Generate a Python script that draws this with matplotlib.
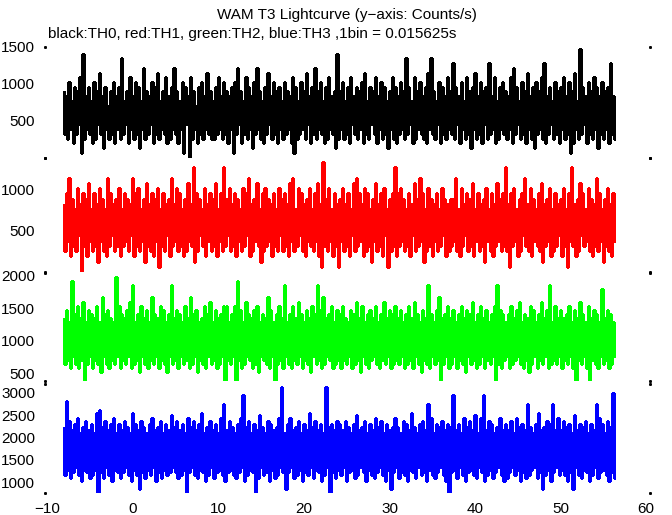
import numpy as np
import matplotlib
matplotlib.use("Agg")
import matplotlib.pyplot as plt

plt.rcParams['font.family'] = ['Liberation Sans', 'DejaVu Sans']

# ---- data: counts per bin (peak / trough pairs); rate = counts / bin width ----
bin_width = 0.015625          # s  (1bin = 0.015625s)
t_start = -8.2                # s
t_step = 0.1615               # s between plotted samples

th0_hi = [14, 13, 16, 12, 15, 14, 17, 22, 13, 15, 12, 16, 14, 18, 13, 15, 11, 14, 16, 13,
          15, 21, 12, 14, 17, 13, 16, 15, 12, 19, 14, 13, 16, 15, 18, 12, 14, 17, 13, 15,
          19, 14, 12, 16, 15, 13, 17, 14, 11, 15, 16, 13, 18, 14, 12, 15, 17, 13, 16, 14,
          13, 15, 16, 19, 14, 12, 17, 15, 13, 16, 19, 14, 12, 15, 18, 13, 16, 14, 15, 12,
          16, 14, 13, 17, 15, 12, 16, 14, 18, 13, 15, 19, 14, 16, 12, 15, 17, 13, 14, 22,
          14, 16, 12, 15, 17, 13, 15, 14, 16, 18, 12, 15, 14, 17, 13, 16, 15, 12, 14, 17,
          15, 13, 16, 14, 21, 15, 12, 17, 14, 16, 13, 15, 18, 21, 14, 12, 16, 15, 13, 17,
          14, 20, 15, 13, 16, 12, 17, 14, 15, 18, 13, 16, 14, 15, 20, 13, 17, 12, 15, 16,
          14, 13, 17, 19, 15, 12, 16, 14, 18, 13, 15, 16, 14, 17, 20, 13, 15, 12, 16, 14,
          15, 17, 13, 16, 14, 18, 12, 23, 15, 13, 16, 14, 17, 15, 13, 16, 14, 15, 20, 13]
th0_lo = [5, 4, 6, 3, 5, 7, 1, 4, 6, 5, 3, 4, 7, 5, 2, 6, 4, 5, 3, 6,
          4, 5, 7, 3, 6, 4, 5, 2, 6, 4, 5, 7, 3, 5, 4, 6, 5, 3, 4, 6,
          5, 3, 6, 1, 7, 0, 4, 6, 3, 5, 4, 6, 5, 4, 4, 5, 6, 4, 5, 3,
          6, 1, 5, 7, 3, 5, 4, 6, 2, 5, 6, 4, 3, 5, 7, 4, 5, 3, 6, 4,
          5, 6, 3, 1, 4, 5, 6, 4, 7, 3, 5, 4, 6, 5, 3, 4, 6, 5, 2, 4,
          6, 4, 5, 3, 7, 5, 4, 6, 3, 5, 4, 7, 5, 3, 6, 4, 5, 2, 6, 4,
          3, 5, 6, 4, 5, 7, 3, 4, 6, 5, 4, 3, 6, 5, 4, 7, 3, 5, 4, 6,
          5, 4, 7, 3, 6, 4, 5, 2, 6, 4, 5, 3, 7, 4, 5, 6, 3, 4, 6, 5,
          4, 6, 3, 5, 7, 4, 5, 3, 6, 4, 2, 5, 6, 4, 3, 5, 7, 4, 5, 3,
          6, 4, 5, 1, 3, 6, 4, 5, 7, 3, 5, 4, 6, 2, 5, 4, 6, 3, 5, 4]

th1_hi = [13, 15, 18, 14, 12, 16, 13, 15, 14, 17, 12, 15, 13, 16, 14, 12, 18, 15, 13, 14,
          16, 12, 15, 14, 13, 18, 15, 16, 12, 14, 17, 13, 15, 14, 16, 12, 15, 13, 14, 18,
          13, 16, 15, 12, 14, 17, 13, 20, 15, 14, 12, 16, 13, 15, 14, 17, 12, 15, 20, 14,
          16, 13, 15, 14, 12, 16, 15, 18, 13, 14, 17, 12, 15, 16, 14, 13, 15, 12, 16, 14,
          15, 13, 17, 18, 12, 16, 15, 13, 14, 16, 12, 15, 17, 13, 21, 14, 16, 12, 15, 13,
          14, 16, 13, 15, 12, 17, 18, 15, 13, 16, 15, 12, 14, 17, 13, 15, 16, 12, 14, 15,
          20, 15, 16, 14, 12, 15, 13, 17, 14, 18, 15, 12, 16, 14, 13, 15, 12, 16, 14, 13,
          14, 14, 18, 12, 16, 13, 15, 14, 17, 12, 15, 13, 14, 16, 12, 15, 13, 17, 14, 15,
          20, 13, 15, 16, 12, 14, 15, 18, 13, 16, 14, 12, 15, 17, 13, 14, 16, 12, 15, 13,
          14, 16, 12, 15, 20, 13, 14, 17, 15, 12, 16, 14, 13, 18, 15, 12, 14, 16, 13, 15]
th1_lo = [4, 6, 3, 5, 4, 7, 0, 5, 3, 6, 4, 5, 2, 6, 4, 3, 5, 7, 4, 5,
          3, 5, 6, 4, 7, 3, 5, 4, 6, 2, 5, 4, 3, 6, 1, 5, 4, 7, 3, 5,
          6, 4, 5, 3, 4, 6, 5, 2, 4, 7, 5, 3, 6, 4, 5, 3, 6, 4, 5, 7,
          4, 5, 3, 6, 4, 5, 7, 3, 4, 6, 5, 2, 4, 5, 6, 3, 5, 4, 7, 4,
          5, 3, 6, 4, 5, 7, 4, 3, 6, 5, 4, 6, 3, 1, 5, 4, 6, 3, 5, 1,
          6, 4, 5, 3, 7, 4, 5, 6, 3, 4, 5, 2, 6, 4, 5, 3, 7, 1, 4, 5,
          3, 5, 6, 4, 5, 3, 7, 4, 5, 6, 2, 4, 5, 3, 6, 4, 5, 7, 3, 4,
          5, 6, 4, 3, 5, 7, 4, 5, 3, 6, 4, 5, 2, 6, 4, 3, 5, 6, 4, 5,
          4, 1, 5, 6, 3, 4, 7, 5, 4, 3, 6, 5, 4, 2, 5, 6, 3, 4, 5, 7,
          3, 5, 1, 6, 5, 3, 4, 7, 5, 6, 4, 3, 5, 4, 6, 2, 5, 4, 3, 6]

th2_hi = [21, 23, 20, 30, 22, 24, 21, 25, 20, 23, 22, 21, 24, 20, 26, 22, 23, 21, 20, 31,
          24, 22, 21, 23, 25, 29, 20, 22, 24, 21, 23, 20, 26, 22, 21, 24, 23, 20, 22, 29,
          21, 23, 22, 20, 24, 21, 26, 22, 23, 20, 21, 24, 22, 25, 20, 23, 21, 22, 24, 24,
          20, 22, 24, 30, 23, 20, 25, 22, 21, 23, 24, 20, 22, 21, 26, 23, 20, 22, 24, 21,
          29, 20, 22, 24, 21, 25, 22, 20, 23, 21, 24, 22, 29, 23, 26, 21, 22, 24, 20, 23,
          22, 24, 21, 20, 23, 22, 25, 21, 24, 20, 22, 23, 21, 24, 20, 22, 25, 21, 23, 22,
          24, 21, 23, 20, 22, 24, 21, 25, 22, 20, 23, 21, 29, 22, 20, 23, 26, 21, 22, 24,
          21, 23, 20, 22, 24, 21, 23, 22, 25, 20, 22, 24, 21, 23, 20, 22, 24, 29, 23, 22,
          20, 22, 24, 21, 23, 25, 20, 22, 21, 24, 23, 20, 22, 25, 21, 23, 29, 20, 24, 21,
          23, 21, 22, 24, 20, 23, 21, 25, 22, 20, 24, 21, 23, 22, 20, 28, 21, 23, 22, 20]
th2_lo = [10, 11, 9, 12, 10, 9, 11, 6, 10, 12, 9, 11, 10, 8, 12, 10, 9, 11, 10, 12,
          9, 11, 10, 12, 9, 10, 11, 8, 12, 10, 9, 11, 10, 12, 9, 11, 10, 8, 12, 10,
          11, 9, 12, 10, 11, 9, 10, 12, 8, 11, 10, 9, 12, 10, 11, 9, 10, 12, 6, 11,
          10, 12, 6, 11, 9, 10, 12, 11, 9, 10, 8, 12, 11, 10, 9, 12, 6, 10, 11, 9,
          12, 10, 9, 11, 10, 12, 9, 11, 10, 8, 12, 10, 11, 9, 10, 12, 11, 9, 10, 11,
          9, 11, 10, 12, 9, 10, 11, 8, 12, 10, 9, 11, 12, 10, 9, 11, 10, 12, 9, 10,
          11, 10, 12, 9, 10, 11, 9, 12, 10, 8, 11, 10, 9, 12, 10, 11, 6, 10, 12, 9,
          10, 12, 9, 11, 10, 8, 12, 10, 11, 9, 10, 12, 9, 11, 10, 12, 6, 10, 9, 11,
          12, 9, 10, 11, 12, 10, 9, 11, 8, 10, 12, 9, 11, 10, 12, 9, 10, 11, 10, 12,
          9, 11, 10, 12, 9, 6, 11, 10, 12, 9, 6, 11, 10, 9, 12, 10, 11, 9, 10, 12]

th3_hi = [35, 44, 37, 34, 36, 38, 33, 35, 37, 34, 36, 33, 40, 41, 35, 37, 34, 36, 38, 33,
          36, 34, 37, 35, 33, 40, 36, 34, 37, 35, 33, 36, 38, 34, 35, 37, 33, 36, 34, 39,
          35, 37, 34, 36, 33, 38, 35, 37, 34, 36, 40, 33, 35, 37, 34, 36, 33, 38, 43, 34,
          37, 35, 33, 36, 38, 46, 35, 37, 33, 36, 34, 39, 35, 33, 37, 36, 34, 35, 38, 49,
          33, 36, 38, 34, 35, 37, 33, 36, 34, 40, 35, 37, 34, 36, 33, 49, 35, 36, 34, 37,
          36, 34, 37, 35, 33, 36, 39, 34, 35, 37, 33, 36, 34, 38, 35, 37, 33, 36, 34, 35,
          38, 35, 33, 37, 36, 34, 40, 35, 33, 36, 37, 34, 43, 38, 33, 36, 35, 37, 34, 36,
          35, 46, 34, 36, 33, 38, 35, 37, 34, 39, 33, 38, 46, 34, 37, 36, 33, 35, 38, 34,
          36, 34, 37, 33, 38, 35, 36, 34, 43, 35, 33, 36, 40, 34, 35, 37, 36, 43, 34, 38,
          34, 37, 35, 36, 33, 39, 34, 36, 35, 37, 33, 36, 34, 43, 38, 36, 33, 37, 35, 47]
th3_lo = [18, 20, 17, 19, 21, 18, 16, 20, 19, 17, 18, 20, 12, 19, 17, 21, 18, 16, 20, 19,
          17, 19, 21, 18, 16, 20, 18, 13, 19, 17, 20, 18, 21, 16, 19, 17, 20, 18, 19, 21,
          19, 17, 18, 20, 12, 19, 21, 18, 17, 20, 19, 16, 18, 21, 17, 19, 20, 18, 16, 19,
          20, 18, 17, 19, 21, 16, 18, 20, 19, 12, 17, 21, 18, 19, 16, 20, 17, 18, 21, 19,
          13, 19, 21, 17, 18, 20, 16, 19, 18, 21, 17, 20, 19, 16, 18, 21, 12, 19, 17, 20,
          18, 21, 16, 19, 20, 17, 18, 21, 19, 16, 20, 18, 17, 19, 21, 18, 16, 20, 13, 19,
          21, 17, 19, 18, 16, 20, 19, 17, 21, 18, 19, 16, 20, 18, 17, 19, 21, 18, 16, 12,
          19, 20, 17, 21, 18, 16, 19, 20, 18, 17, 21, 19, 16, 18, 20, 17, 19, 21, 18, 16,
          17, 19, 21, 18, 20, 16, 19, 17, 18, 20, 21, 17, 19, 13, 18, 20, 16, 19, 21, 18,
          20, 18, 16, 19, 13, 21, 18, 17, 20, 19, 16, 18, 21, 17, 19, 20, 18, 16, 19, 17]

series_colors = ['black', '#ff0000', '#00ff00', '#0000ff']
y_limits = [(0, 1500), (0, 1390), (378, 2046), (753, 3202)]
y_ticks = [[500, 1000, 1500], [500, 1000], [500, 1000, 1500, 2000], [1000, 1500, 2000, 2500, 3000]]
x_ticks = [-10, 0, 10, 20, 30, 40, 50, 60]
title = "WAM T3 Lightcurve (y\u2212axis: Counts/s)"
subtitle = "black:TH0, red:TH1, green:TH2, blue:TH3 ,1bin = 0.015625s"

# panel extents in pixels (top, bottom)
W, H = 672, 515
panels_px = [(47, 157.5), (158, 272), (272.5, 381), (384, 493)]
left_px, right_px = 47.5, 646
FS = 11

fig = plt.figure(figsize=(W / 100, H / 100), dpi=100)
fig.patch.set_facecolor('white')


def interleave(hi, lo):
    out = np.empty(len(hi) + len(lo))
    out[0::2] = hi
    out[1::2] = lo
    return out / bin_width   # counts -> counts/s


series = [interleave(th0_hi, th0_lo), interleave(th1_hi, th1_lo),
          interleave(th2_hi, th2_lo), interleave(th3_hi, th3_lo)]

for k, (top, bot) in enumerate(panels_px):
    ax = fig.add_axes([left_px / W, 1 - bot / H, (right_px - left_px) / W, (bot - top) / H])
    y = series[k]
    t = t_start + (np.arange(len(y)) + 0.5) * t_step
    ax.plot(t, y, drawstyle='steps-mid', color=series_colors[k], lw=0.95,
            antialiased=False, solid_joinstyle='miter', solid_capstyle='butt')
    ax.set_xlim(-10, 60)
    ax.set_ylim(*y_limits[k])
    ax.set_yticks(y_ticks[k])
    ax.tick_params(axis='y', length=0, pad=9, labelsize=FS)
    for s in ax.spines.values():
        s.set_visible(False)
    ax.patch.set_alpha(0)
    # corner dots
    ax.plot([-0.004, -0.004, 1.006, 1.006], [0, 1, 0, 1], transform=ax.transAxes,
            ls='none', marker='s', ms=1.1, color='black', clip_on=False)
    if k < 3:
        ax.set_xticks([])
    else:
        ax.set_xticks(x_ticks)
        ax.tick_params(axis='x', length=0, pad=6.5, labelsize=FS)

fig.text((left_px + right_px) / 2 / W, 1 - 15 / H, title, ha='center', va='center', fontsize=FS)
fig.text(left_px / W, 1 - 34 / H, subtitle, ha='left', va='center', fontsize=FS)

fig.savefig('out.png', dpi=100)
